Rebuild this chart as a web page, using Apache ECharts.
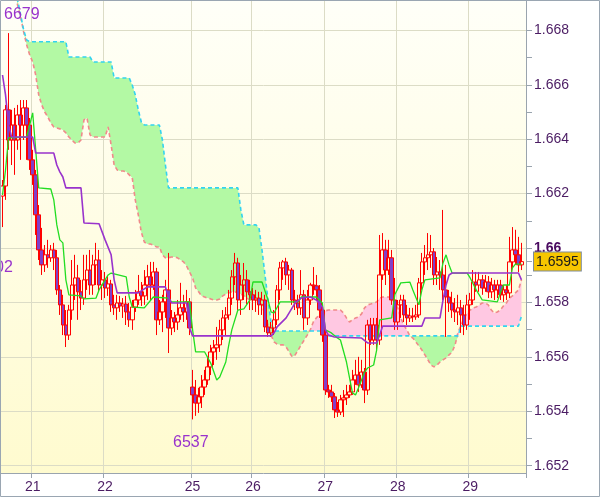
<!DOCTYPE html>
<html><head><meta charset="utf-8">
<script src="https://cdn.jsdelivr.net/npm/echarts@6/dist/echarts.min.js"></script>
<style>html,body{margin:0;padding:0;background:#fff}#c{width:600px;height:497px}</style>
</head><body><div id="c"></div>
<script>
// ---- hourly bars (index 0..173), day labels ----
const barCount = 174;
const dayTickIndex = [10, 34, 63, 83, 107, 131, 155];
const dayLabels = ['21', '22', '25', '26', '27', '28', '29'];

// ---- y axis ticks ----
const yMin = 1.65173, yMax = 1.66908;
const yLabelValues = [1.652, 1.654, 1.656, 1.658, 1.660, 1.662, 1.664, 1.666, 1.668];
const yMinorTicks = [1.653, 1.655, 1.657, 1.659, 1.661, 1.663, 1.665, 1.667];
const boldLabelValue = 1.66;
const lastPrice = 1.6595;

// ---- candles ----
const open = [1.66191,1.66228,1.66508,1.66397,1.66452,1.66397,1.66489,1.66452,1.66515,1.66452,
1.66324,1.66269,1.66122,1.65993,1.65938,1.65975,1.65964,1.65993,1.65964,1.65846,
1.65791,1.65717,1.65680,1.65772,1.65864,1.65890,1.65839,1.65816,1.65883,1.65919,
1.65864,1.65938,1.65956,1.65864,1.65883,1.65853,1.65868,1.65791,1.65780,1.65798,
1.65787,1.65794,1.65765,1.65736,1.65783,1.65809,1.65839,1.65824,1.65864,1.65894,
1.65864,1.65912,1.65736,1.65765,1.65802,1.65846,1.65706,1.65743,1.65728,1.65754,
1.65780,1.65765,1.65802,1.65489,1.65460,1.65430,1.65453,1.65489,1.65515,1.65563,
1.65618,1.65633,1.65644,1.65699,1.65743,1.65754,1.65816,1.65894,1.65945,1.65809,
1.65864,1.65883,1.65839,1.65828,1.65809,1.65816,1.65791,1.65809,1.65710,1.65688,
1.65706,1.65736,1.65846,1.65927,1.65949,1.65901,1.65919,1.65809,1.65798,1.65780,
1.65828,1.65743,1.65809,1.65864,1.65861,1.65846,1.65772,1.65680,1.65478,1.65471,
1.65453,1.65405,1.65397,1.65442,1.65449,1.65460,1.65471,1.65515,1.65533,1.65497,
1.65544,1.65478,1.65717,1.65662,1.65717,1.65662,1.65901,1.65993,1.65919,1.65964,
1.65809,1.65728,1.65791,1.65809,1.65754,1.65743,1.65750,1.65747,1.65754,1.65872,
1.65949,1.65964,1.65975,1.65986,1.65901,1.65912,1.65901,1.65846,1.65820,1.65798,
1.65772,1.65765,1.65780,1.65754,1.65717,1.65791,1.65809,1.65875,1.65864,1.65883,
1.65853,1.65875,1.65839,1.65864,1.65846,1.65864,1.65828,1.65846,1.65835,1.65949,
1.65993,1.65975,1.65938];
const close = [1.66228,1.66508,1.66397,1.66452,1.66397,1.66489,1.66452,1.66515,1.66452,1.66324,
1.66269,1.66122,1.65993,1.65938,1.65975,1.65964,1.65993,1.65964,1.65846,1.65791,
1.65717,1.65680,1.65772,1.65864,1.65890,1.65839,1.65816,1.65883,1.65919,1.65864,
1.65938,1.65956,1.65864,1.65883,1.65853,1.65868,1.65791,1.65780,1.65798,1.65787,
1.65794,1.65765,1.65736,1.65783,1.65809,1.65839,1.65824,1.65864,1.65894,1.65864,
1.65912,1.65736,1.65765,1.65802,1.65846,1.65706,1.65743,1.65728,1.65754,1.65780,
1.65765,1.65802,1.65706,1.65460,1.65430,1.65453,1.65489,1.65515,1.65563,1.65618,
1.65633,1.65644,1.65699,1.65743,1.65754,1.65816,1.65894,1.65945,1.65809,1.65864,
1.65883,1.65839,1.65828,1.65809,1.65816,1.65791,1.65809,1.65710,1.65688,1.65706,
1.65736,1.65846,1.65927,1.65949,1.65901,1.65919,1.65809,1.65798,1.65780,1.65828,
1.65743,1.65809,1.65864,1.65861,1.65846,1.65772,1.65680,1.65478,1.65471,1.65453,
1.65405,1.65397,1.65442,1.65449,1.65460,1.65471,1.65515,1.65533,1.65497,1.65544,
1.65478,1.65717,1.65662,1.65717,1.65662,1.65901,1.65993,1.65919,1.65964,1.65809,
1.65728,1.65791,1.65809,1.65754,1.65743,1.65750,1.65747,1.65754,1.65872,1.65949,
1.65964,1.65975,1.65986,1.65901,1.65912,1.65901,1.65846,1.65820,1.65798,1.65772,
1.65765,1.65780,1.65754,1.65717,1.65791,1.65809,1.65875,1.65864,1.65883,1.65853,
1.65875,1.65839,1.65864,1.65846,1.65864,1.65828,1.65846,1.65835,1.65949,1.65993,
1.65975,1.65938,1.65950];
const low = [1.66077,1.66177,1.66361,1.66305,1.66269,1.66361,1.66324,1.66397,1.66324,1.66287,
1.66232,1.66048,1.65956,1.65901,1.65912,1.65927,1.65949,1.65919,1.65828,1.65754,
1.65680,1.65636,1.65662,1.65736,1.65809,1.65736,1.65772,1.65791,1.65846,1.65828,
1.65828,1.65864,1.65839,1.65809,1.65816,1.65824,1.65765,1.65754,1.65736,1.65765,
1.65743,1.65717,1.65710,1.65699,1.65765,1.65791,1.65787,1.65791,1.65809,1.65809,
1.65846,1.65680,1.65717,1.65691,1.65743,1.65614,1.65680,1.65691,1.65699,1.65736,
1.65728,1.65736,1.65680,1.65370,1.65383,1.65394,1.65412,1.65460,1.65497,1.65533,
1.65570,1.65589,1.65618,1.65662,1.65680,1.65736,1.65791,1.65864,1.65772,1.65754,
1.65809,1.65791,1.65772,1.65772,1.65765,1.65754,1.65754,1.65691,1.65673,1.65673,
1.65680,1.65717,1.65809,1.65883,1.65864,1.65846,1.65791,1.65772,1.65754,1.65754,
1.65699,1.65717,1.65791,1.65828,1.65809,1.65743,1.65655,1.65460,1.65449,1.65434,
1.65375,1.65379,1.65386,1.65379,1.65423,1.65449,1.65460,1.65497,1.65471,1.65486,
1.65430,1.65460,1.65644,1.65644,1.65625,1.65644,1.65883,1.65864,1.65901,1.65791,
1.65699,1.65699,1.65743,1.65728,1.65717,1.65728,1.65728,1.65736,1.65743,1.65846,
1.65901,1.65919,1.65927,1.65864,1.65864,1.65846,1.65809,1.65673,1.65765,1.65743,
1.65728,1.65717,1.65688,1.65680,1.65699,1.65736,1.65791,1.65839,1.65839,1.65828,
1.65839,1.65816,1.65816,1.65809,1.65816,1.65809,1.65802,1.65809,1.65816,1.65927,
1.65938,1.65912,1.65919];
const high = [1.66250,1.66526,1.66790,1.66508,1.66515,1.66526,1.66544,1.66544,1.66544,1.66478,
1.66361,1.66287,1.66158,1.66074,1.66011,1.66030,1.66011,1.66019,1.65993,1.65864,
1.65828,1.65772,1.65791,1.65956,1.65975,1.65938,1.65883,1.65975,1.65975,1.65993,
1.65975,1.66019,1.65993,1.65919,1.65912,1.65897,1.65883,1.65828,1.65828,1.65824,
1.65816,1.65824,1.65798,1.65809,1.65846,1.65901,1.65875,1.65919,1.65938,1.65949,
1.65949,1.65927,1.65809,1.65828,1.65883,1.65982,1.65772,1.65765,1.65809,1.65872,
1.65828,1.65846,1.65816,1.65552,1.65515,1.65486,1.65533,1.65552,1.65596,1.65644,
1.65662,1.65710,1.65736,1.65772,1.65783,1.65846,1.65919,1.65982,1.65964,1.65901,
1.65945,1.65919,1.65883,1.65853,1.65846,1.65839,1.65839,1.65828,1.65736,1.65728,
1.65772,1.65864,1.65949,1.65956,1.65964,1.65938,1.65927,1.65846,1.65828,1.65919,
1.65846,1.65846,1.65872,1.65930,1.65901,1.65864,1.65791,1.65699,1.65497,1.65497,
1.65467,1.65434,1.65460,1.65478,1.65497,1.65497,1.65552,1.65589,1.65600,1.65589,
1.65559,1.65736,1.65743,1.65743,1.65743,1.66048,1.66055,1.66030,1.66030,1.65993,
1.65890,1.65809,1.65828,1.65828,1.65791,1.65780,1.65780,1.65791,1.65890,1.65982,
1.66011,1.66055,1.66048,1.66000,1.65967,1.65956,1.66140,1.65938,1.65846,1.65839,
1.65816,1.65828,1.65809,1.65791,1.65828,1.65835,1.65919,1.65912,1.65912,1.65901,
1.65901,1.65897,1.65890,1.65883,1.65883,1.65883,1.65864,1.65864,1.66041,1.66077,
1.66067,1.66041,1.66019];

// ---- Ichimoku cloud spans (per bar) ----
const spanA = [null,null,null,null,1.66949,1.66893,1.66849,1.66795,1.66747,1.66710,
1.66684,1.66636,1.66563,1.66526,1.66500,1.66482,1.66460,1.66445,1.66441,1.66438,
1.66434,1.66423,1.66408,1.66397,1.66386,1.66386,1.66397,1.66471,1.66478,1.66416,
1.66408,1.66408,1.66408,1.66408,1.66408,1.66445,1.66379,1.66305,1.66287,1.66283,
1.66283,1.66280,1.66269,1.66258,1.66177,1.66122,1.66059,1.66022,1.66015,1.66015,
1.66011,1.66004,1.66004,1.65975,1.65964,1.65964,1.65967,1.65967,1.65964,1.65956,
1.65949,1.65934,1.65912,1.65890,1.65853,1.65839,1.65824,1.65820,1.65816,1.65813,
1.65809,1.65809,1.65813,1.65824,1.65831,1.65835,1.65839,1.65839,1.65835,1.65831,
1.65824,1.65816,1.65809,1.65809,1.65809,1.65802,1.65791,1.65754,1.65717,1.65680,
1.65655,1.65647,1.65644,1.65644,1.65636,1.65618,1.65600,1.65607,1.65625,1.65644,
1.65662,1.65680,1.65699,1.65728,1.65743,1.65754,1.65761,1.65769,1.65772,1.65772,
1.65772,1.65772,1.65772,1.65761,1.65743,1.65728,1.65736,1.65743,1.65747,1.65758,
1.65780,1.65791,1.65794,1.65798,1.65802,1.65816,1.65820,1.65820,1.65820,1.65816,
1.65798,1.65780,1.65743,1.65717,1.65699,1.65677,1.65669,1.65655,1.65640,1.65625,
1.65607,1.65589,1.65570,1.65563,1.65570,1.65581,1.65589,1.65596,1.65607,1.65618,
1.65644,1.65691,1.65717,1.65743,1.65761,1.65772,1.65780,1.65783,1.65791,1.65798,
1.65798,1.65791,1.65772,1.65761,1.65765,1.65772,1.65787,1.65798,1.65816,1.65824,
1.65835,1.65846,1.65883,null];
const spanB = [null,null,null,null,1.67022,1.66912,1.66857,1.66802,1.66765,1.66758,
1.66758,1.66758,1.66758,1.66758,1.66758,1.66758,1.66758,1.66758,1.66758,1.66758,
1.66758,1.66758,1.66702,1.66702,1.66702,1.66702,1.66702,1.66702,1.66702,1.66702,
1.66684,1.66684,1.66684,1.66684,1.66684,1.66684,1.66684,1.66625,1.66625,1.66625,
1.66625,1.66625,1.66625,1.66599,1.66563,1.66508,1.66463,1.66452,1.66452,1.66452,
1.66452,1.66452,1.66452,1.66397,1.66305,1.66221,1.66221,1.66221,1.66221,1.66221,
1.66221,1.66221,1.66221,1.66221,1.66221,1.66221,1.66221,1.66221,1.66221,1.66221,
1.66221,1.66221,1.66221,1.66221,1.66221,1.66221,1.66221,1.66221,1.66221,1.66140,
1.66085,1.66085,1.66085,1.66085,1.66085,1.66074,1.65993,1.65901,1.65809,1.65728,
1.65695,1.65695,1.65695,1.65695,1.65695,1.65695,1.65695,1.65695,1.65695,1.65695,
1.65695,1.65695,1.65695,1.65695,1.65695,1.65695,1.65695,1.65677,1.65677,1.65677,
1.65677,1.65677,1.65677,1.65677,1.65677,1.65677,1.65677,1.65677,1.65677,1.65677,
1.65677,1.65677,1.65677,1.65677,1.65677,1.65677,1.65677,1.65677,1.65677,1.65677,
1.65677,1.65677,1.65677,1.65677,1.65677,1.65677,1.65677,1.65677,1.65677,1.65677,
1.65677,1.65677,1.65677,1.65677,1.65677,1.65677,1.65677,1.65677,1.65677,1.65677,
1.65677,1.65677,1.65713,1.65713,1.65713,1.65713,1.65713,1.65713,1.65713,1.65713,
1.65713,1.65713,1.65713,1.65713,1.65713,1.65713,1.65713,1.65713,1.65713,1.65713,
1.65713,1.65713,1.65750,null];

// ---- Tenkan-sen / Kijun-sen (bar index, value) breakpoints ----
const tenkan = [[0,1.66195],[1,1.66287],[2,1.66405],[8,1.66408],[10,1.66497],[11,1.66361],[12,1.66221],[16,1.66217],
[17,1.66177],[18,1.66085],[19,1.66030],[20,1.66019],[21,1.65883],[22,1.65828],[26,1.65824],[27,1.65813],[31,1.65816],
[32,1.65846],[35,1.65901],[36,1.65908],[41,1.65894],[42,1.65820],[43,1.65783],[47,1.65780],[50,1.65820],[55,1.65816],
[56,1.65802],[62,1.65802],[63,1.65699],[64,1.65618],[67,1.65618],[69,1.65577],[71,1.65515],[72,1.65526],[74,1.65581],
[75,1.65644],[76,1.65699],[78,1.65772],[80,1.65776],[82,1.65809],[83,1.65875],[86,1.65875],[88,1.65809],[89,1.65765],
[90,1.65761],[92,1.65802],[98,1.65802],[99,1.65820],[104,1.65820],[105,1.65809],[106,1.65798],[107,1.65699],[109,1.65688],
[111,1.65669],[112,1.65662],[114,1.65581],[116,1.65467],[117,1.65460],[118,1.65486],[120,1.65544],[121,1.65559],[123,1.65570],
[124,1.65625],[125,1.65736],[129,1.65743],[130,1.65828],[132,1.65872],[135,1.65875],[136,1.65846],[138,1.65791],[139,1.65846],
[140,1.65883],[145,1.65890],[146,1.65945],[147,1.65975],[148,1.65938],[149,1.65908],[154,1.65908],[155,1.65890],[157,1.65846],
[159,1.65809],[164,1.65802],[165,1.65835],[166,1.65864],[168,1.65864],[169,1.65927],[170,1.65941],[172,1.65941]];
const kijun = [[0,1.66636],[1,1.66563],[2,1.66452],[3,1.66408],[10,1.66408],[11,1.66349],[17,1.66349],[18,1.66305],
[19,1.66280],[20,1.66261],[21,1.66221],[26,1.66221],[27,1.66092],[32,1.66089],[34,1.66030],[36,1.65975],[37,1.65883],
[38,1.65835],[45,1.65835],[48,1.65857],[54,1.65857],[55,1.65820],[56,1.65798],[61,1.65798],[62,1.65706],[63,1.65677],
[89,1.65677],[90,1.65688],[91,1.65710],[94,1.65743],[96,1.65780],[97,1.65798],[99,1.65816],[102,1.65820],[104,1.65809],
[106,1.65783],[107,1.65699],[108,1.65680],[110,1.65673],[119,1.65669],[121,1.65651],[124,1.65651],[125,1.65680],[126,1.65713],
[139,1.65713],[140,1.65743],[145,1.65743],[146,1.65809],[147,1.65864],[148,1.65901],[149,1.65908],[171,1.65908],[172,1.65883]];

// ---- extreme labels ----
const highLabel = '6679', lowLabel = '6537', edgeLabel = '02';

// ---------------- build ----------------
const categories = Array.from({length: barCount}, (_, i) => String(i));
const candleData = open.map((o, i) => [o, close[i], low[i], high[i]]);
const cloudLow = spanA.map((a, i) => (a == null || spanB[i] == null) ? null : Math.min(a, spanB[i]));
const cloudGreen = spanA.map((a, i) => (a == null || spanB[i] == null) ? null : Math.max(spanB[i] - a, 0));
const cloudPink = spanA.map((a, i) => (a == null || spanB[i] == null) ? null : Math.max(a - spanB[i], 0));
const isDay = (idx) => dayTickIndex.indexOf(idx) >= 0;

const FONT = 'Liberation Sans, Arial, sans-serif';
const labelColor = '#4B1C63';
const axisGray = '#9AA4AE';
const gridColor = '#DCDCC6';

const chart = echarts.init(document.getElementById('c'), null, {renderer: 'canvas'});
chart.setOption({
  animation: false,
  backgroundColor: '#ffffff',
  grid: {
    left: 1, right: 74, top: 1, bottom: 24, show: true, borderWidth: 0,
    backgroundColor: {type: 'linear', x: 0, y: 0, x2: 0, y2: 1,
      colorStops: [{offset: 0, color: '#FFFFF8'}, {offset: 1, color: '#FFFBCF'}]}
  },
  xAxis: {
    type: 'category', data: categories, boundaryGap: true,
    axisLine: {show: true, lineStyle: {color: axisGray, width: 1}},
    axisTick: {show: true, length: 5, interval: (i) => isDay(i), lineStyle: {color: axisGray}},
    axisLabel: {interval: (i) => isDay(i), margin: 7, color: labelColor, fontSize: 14, fontFamily: FONT,
      formatter: (v, i) => { const k = dayTickIndex.indexOf(Number(v)); return k >= 0 ? dayLabels[k] : ''; }},
    splitLine: {show: true, interval: (i) => isDay(i), lineStyle: {color: gridColor, width: 1}}
  },
  yAxis: [{
    type: 'value', position: 'right', min: yMin, max: yMax, scale: true,
    axisLine: {show: true, lineStyle: {color: axisGray, width: 1}},
    axisTick: {show: true, length: 6, customValues: yLabelValues, lineStyle: {color: axisGray}},
    splitLine: {show: true, lineStyle: {color: gridColor, width: 1}},
    axisLabel: {
      customValues: yLabelValues.concat([lastPrice]), margin: 8, color: labelColor, fontSize: 14, fontFamily: FONT,
      formatter: (v) => {
        if (Math.abs(v - lastPrice) < 1e-7) return '{box|' + lastPrice.toFixed(4) + '}';
        if (Math.abs(v - boldLabelValue) < 1e-7) return '{b|1.66}';
        return v.toFixed(3);
      },
      rich: {
        box: {backgroundColor: '#F7C600', borderColor: '#7F8C99', borderWidth: 1, padding: [3, 2, 1, 2],
              color: '#1A1A1A', fontSize: 14, fontFamily: FONT},
        b: {fontWeight: 'bold', color: '#4A0A60', fontSize: 14, fontFamily: FONT}
      }
    }
  }, {
    type: 'value', position: 'right', min: yMin, max: yMax, scale: true,
    axisLine: {show: false},
    axisTick: {show: true, length: 6, customValues: yMinorTicks.concat([lastPrice]), lineStyle: {color: axisGray}},
    axisLabel: {show: false},
    splitLine: {show: false}
  }],
  graphic: [
    {type: 'text', x: 4, y: 7, silent: true, z: 50,
      style: {text: highLabel, fontSize: 16, fontFamily: FONT, fill: '#9933CC'}},
    {type: 'text', x: 173, y: 435, silent: true, z: 50,
      style: {text: lowLabel, fontSize: 16, fontFamily: FONT, fill: '#9933CC'}},
    {type: 'text', x: -5, y: 260, silent: true, z: 50,
      style: {text: edgeLabel, fontSize: 16, fontFamily: FONT, fill: '#9933CC'}},
    {type: 'rect', silent: true, z: 100,
      shape: {x: 0.5, y: 0.5, width: 599, height: 496},
      style: {fill: 'none', stroke: '#9AA6B2', lineWidth: 1}}
  ],
  series: [
    {type: 'line', name: 'cloudBase', data: cloudLow, stack: 'cloud', symbol: 'none',
      lineStyle: {width: 0, opacity: 0}, z: 1, silent: true},
    {type: 'line', name: 'cloudGreen', data: cloudGreen, stack: 'cloud', symbol: 'none',
      lineStyle: {width: 0, opacity: 0}, areaStyle: {color: '#B3F9A4', opacity: 1}, z: 1, silent: true},
    {type: 'line', name: 'cloudPink', data: cloudPink, stack: 'cloud', symbol: 'none',
      lineStyle: {width: 0, opacity: 0}, areaStyle: {color: '#FFC8E2', opacity: 1}, z: 1, silent: true},
    {type: 'line', name: 'Senkou A', data: spanA, symbol: 'none', z: 2,
      lineStyle: {color: '#F08A8A', width: 1.6, type: [4, 3]}},
    {type: 'line', name: 'Senkou B', data: spanB, symbol: 'none', z: 2,
      lineStyle: {color: '#33D3F0', width: 1.6, type: [4, 3]}},
    {type: 'candlestick', name: 'price', data: candleData, barWidth: 4, z: 3,
      itemStyle: {color: 'rgba(0,0,0,0)', color0: '#8040C8', borderColor: '#FF0000', borderColor0: '#FF0000', borderWidth: 1}},
    {type: 'line', name: 'Tenkan', data: tenkan, symbol: 'none', z: 4,
      lineStyle: {color: '#22DD22', width: 1.3}},
    {type: 'line', name: 'Kijun', data: kijun, symbol: 'none', z: 4,
      lineStyle: {color: '#9933CC', width: 1.6}}
  ]
});
</script>
</body></html>
